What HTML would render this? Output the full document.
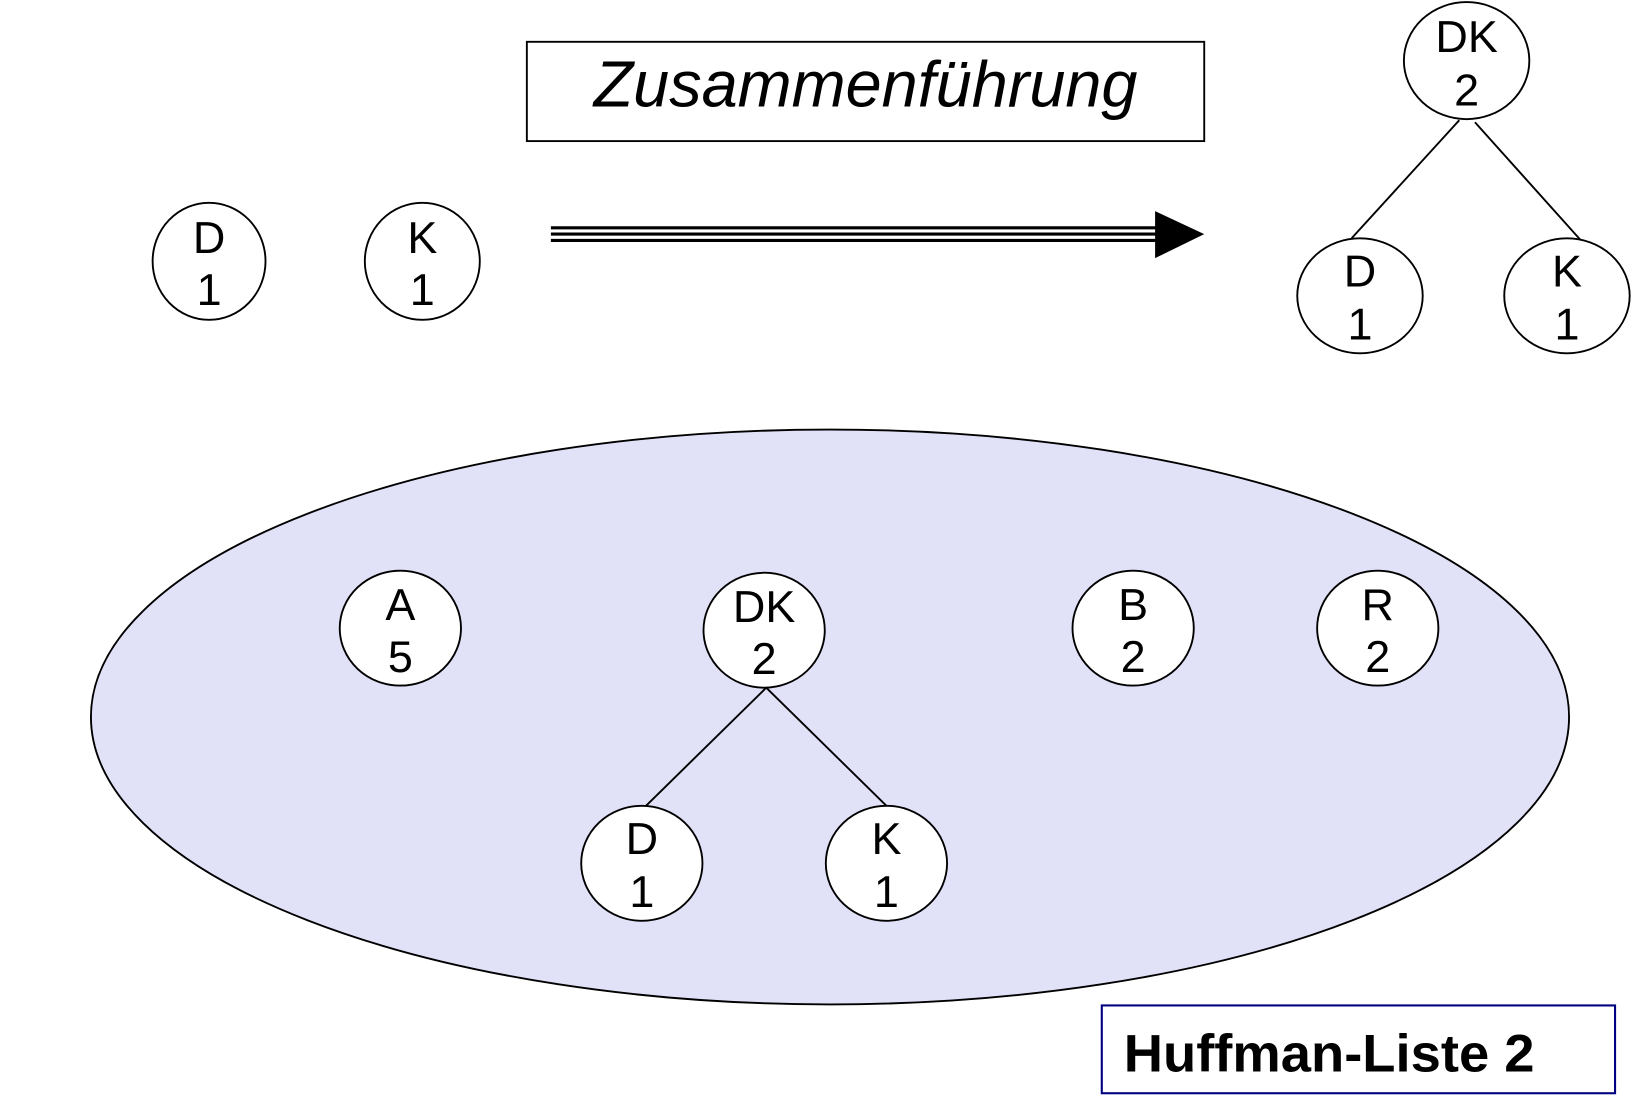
<!DOCTYPE html>
<html><head><meta charset="utf-8"><style>html,body{margin:0;padding:0;background:#fff;}svg{display:block}</style></head>
<body>
<svg width="1637" height="1111" viewBox="0 0 1566 1063" preserveAspectRatio="none" xmlns="http://www.w3.org/2000/svg" font-family="Liberation Sans, Arial, sans-serif">
<rect x="0" y="0" width="1566" height="1063" fill="#fff"/>
<rect x="504" y="40" width="648" height="95" fill="#fff" stroke="#000" stroke-width="1.8"/>
<text x="828" y="102" font-size="62" font-style="italic" text-anchor="middle">Zusammenführung</text>
<g stroke="#000" stroke-width="3">
<line x1="527" y1="218" x2="1108" y2="218"/>
<line x1="527" y1="224" x2="1108" y2="224"/>
<line x1="527" y1="230" x2="1108" y2="230"/>
</g>
<polygon points="1105,202 1152,224 1105,247" fill="#000"/>
<g fill="#fff" stroke="#000" stroke-width="1.8">
<ellipse cx="200" cy="250" rx="54" ry="56"/>
<ellipse cx="404" cy="250" rx="55" ry="56"/>
</g>
<g stroke="#000" stroke-width="1.8">
<line x1="1396" y1="115" x2="1293" y2="228"/>
<line x1="1411" y1="117" x2="1515" y2="233"/>
</g>
<g fill="#fff" stroke="#000" stroke-width="1.8">
<ellipse cx="1403" cy="58" rx="60" ry="56"/>
<ellipse cx="1301" cy="283" rx="60" ry="55"/>
<ellipse cx="1499" cy="283" rx="60" ry="55"/>
</g>
<ellipse cx="794" cy="686" rx="707" ry="275" fill="#e1e1f8" stroke="#000" stroke-width="1.8"/>
<g stroke="#000" stroke-width="1.8">
<line x1="733" y1="658" x2="618" y2="771"/>
<line x1="733" y1="658" x2="848" y2="771"/>
</g>
<g fill="#fff" stroke="#000" stroke-width="1.8">
<ellipse cx="383" cy="601" rx="58" ry="55"/>
<ellipse cx="731" cy="603" rx="58" ry="55"/>
<ellipse cx="1084" cy="601" rx="58" ry="55"/>
<ellipse cx="1318" cy="601" rx="58" ry="55"/>
<ellipse cx="614" cy="826" rx="58" ry="55"/>
<ellipse cx="848" cy="826" rx="58" ry="55"/>
</g>
<g font-size="43" text-anchor="middle" fill="#000">
<text x="200" y="242">D</text><text x="200" y="292">1</text>
<text x="404" y="242">K</text><text x="404" y="292">1</text>
<text x="1403" y="50">DK</text><text x="1403" y="101">2</text>
<text x="1301" y="274">D</text><text x="1301" y="325">1</text>
<text x="1499" y="274">K</text><text x="1499" y="325">1</text>
<text x="383" y="593">A</text><text x="383" y="643">5</text>
<text x="731" y="595">DK</text><text x="731" y="645">2</text>
<text x="1084" y="593">B</text><text x="1084" y="643">2</text>
<text x="1318" y="593">R</text><text x="1318" y="643">2</text>
<text x="614" y="817">D</text><text x="614" y="868">1</text>
<text x="848" y="817">K</text><text x="848" y="868">1</text>
</g>
<rect x="1054" y="962" width="491" height="84" fill="#fff" stroke="#000080" stroke-width="2"/>
<text x="1075" y="1025" font-size="51" font-weight="bold" textLength="393" lengthAdjust="spacingAndGlyphs">Huffman-Liste 2</text>
</svg>
</body></html>
